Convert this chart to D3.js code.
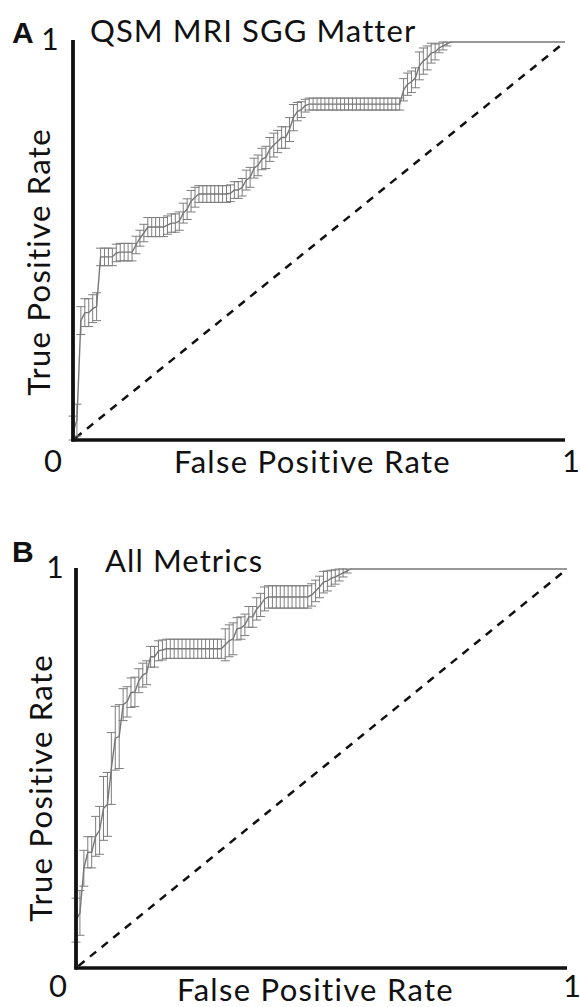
<!DOCTYPE html>
<html>
<head>
<meta charset="utf-8">
<script src="https://cdn.jsdelivr.net/npm/d3@7"></script>
<style>
  html, body { margin: 0; padding: 0; background: #fff; }
  svg { display: block; }
  text { font-family: Lato, "Open Sans", sans-serif; fill: #111; }
  text.letter { font-family: "Liberation Sans", Arial, sans-serif; font-weight: bold; }
</style>
</head>
<body>
<svg id="chart" width="580" height="1007"></svg>
<script>
// ---------- DATA ----------
// Panel A: QSM MRI SGG Matter — mean ROC on an FPR grid, with error (half-width)
const fprA = [
  0.000,0.008,0.016,0.024,0.032,0.040,0.048,0.056,0.064,0.072,
  0.080,0.088,0.096,0.104,0.112,0.120,0.128,0.136,0.144,0.152,
  0.160,0.168,0.176,0.184,0.192,0.200,0.208,0.216,0.224,0.232,
  0.240,0.248,0.256,0.264,0.272,0.280,0.288,0.296,0.304,0.312,
  0.320,0.328,0.336,0.344,0.352,0.360,0.368,0.376,0.384,0.392,
  0.400,0.408,0.416,0.424,0.432,0.440,0.448,0.456,0.464,0.472,
  0.480,0.488,0.496,0.504,0.512,0.520,0.528,0.536,0.544,0.552,
  0.560,0.568,0.576,0.584,0.592,0.600,0.608,0.616,0.624,0.632,
  0.640,0.648,0.656,0.664,0.672,0.680,0.688,0.696,0.704,0.712,
  0.720,0.728,0.736,0.744,0.752,0.760,0.768,1.000
];
const tprA = [
  0.020,0.050,0.300,0.320,0.320,0.330,0.335,0.460,0.460,0.460,
  0.460,0.470,0.472,0.472,0.472,0.472,0.490,0.507,0.520,0.535,
  0.535,0.535,0.535,0.535,0.540,0.545,0.545,0.550,0.570,0.580,
  0.600,0.610,0.618,0.618,0.618,0.618,0.618,0.618,0.618,0.618,
  0.620,0.628,0.628,0.635,0.653,0.660,0.683,0.690,0.706,0.710,
  0.730,0.741,0.750,0.760,0.760,0.780,0.810,0.825,0.830,0.840,
  0.844,0.844,0.844,0.844,0.844,0.844,0.844,0.844,0.844,0.844,
  0.844,0.844,0.844,0.844,0.844,0.844,0.844,0.844,0.844,0.844,
  0.844,0.844,0.844,0.844,0.880,0.894,0.900,0.910,0.940,0.952,
  0.960,0.972,0.975,0.985,0.990,0.995,1.000,1.000
];
const errA = [
  0.040,0.040,0.035,0.035,0.035,0.035,0.035,0.022,0.022,0.022,
  0.022,0.022,0.022,0.022,0.022,0.022,0.022,0.020,0.022,0.024,
  0.024,0.024,0.024,0.024,0.023,0.023,0.023,0.023,0.025,0.026,
  0.027,0.025,0.021,0.021,0.021,0.021,0.021,0.021,0.021,0.021,
  0.021,0.021,0.021,0.022,0.025,0.025,0.025,0.026,0.027,0.028,
  0.030,0.030,0.028,0.027,0.027,0.030,0.033,0.023,0.020,0.016,
  0.015,0.015,0.015,0.015,0.015,0.015,0.015,0.015,0.015,0.015,
  0.015,0.015,0.015,0.015,0.015,0.015,0.015,0.015,0.015,0.015,
  0.015,0.015,0.015,0.015,0.028,0.028,0.027,0.025,0.035,0.033,
  0.030,0.025,0.020,0.012,0.010,0.005,0.000,0.000
];

// Panel B: All Metrics
const fprB = [
  0.000,0.008,0.016,0.024,0.032,0.040,0.048,0.056,0.064,0.072,
  0.080,0.088,0.096,0.104,0.112,0.120,0.128,0.136,0.144,0.152,
  0.160,0.168,0.176,0.184,0.192,0.200,0.208,0.216,0.224,0.232,
  0.240,0.248,0.256,0.264,0.272,0.280,0.288,0.296,0.304,0.312,
  0.320,0.328,0.336,0.344,0.352,0.360,0.368,0.376,0.384,0.392,
  0.400,0.408,0.416,0.424,0.432,0.440,0.448,0.456,0.464,0.472,
  0.480,0.488,0.496,0.504,0.512,0.520,0.528,0.536,0.544,0.552,
  0.560,1.000
];
const tprB = [
  0.120,0.138,0.250,0.290,0.290,0.330,0.345,0.400,0.410,0.500,
  0.576,0.580,0.660,0.667,0.690,0.692,0.720,0.734,0.740,0.780,
  0.780,0.795,0.797,0.800,0.800,0.800,0.800,0.800,0.800,0.800,
  0.800,0.800,0.800,0.800,0.800,0.800,0.800,0.800,0.810,0.820,
  0.825,0.850,0.852,0.860,0.880,0.880,0.900,0.910,0.925,0.930,
  0.930,0.930,0.930,0.930,0.930,0.930,0.930,0.930,0.930,0.930,
  0.935,0.945,0.955,0.967,0.970,0.977,0.980,0.985,0.990,0.995,
  1.000,1.000
];
const errB = [
  0.055,0.056,0.045,0.039,0.039,0.050,0.060,0.080,0.080,0.090,
  0.080,0.080,0.040,0.038,0.037,0.037,0.030,0.030,0.030,0.026,
  0.026,0.025,0.025,0.024,0.024,0.024,0.024,0.024,0.024,0.024,
  0.024,0.024,0.024,0.024,0.024,0.024,0.024,0.024,0.040,0.040,
  0.040,0.028,0.028,0.027,0.026,0.026,0.028,0.029,0.030,0.028,
  0.028,0.028,0.028,0.028,0.028,0.028,0.028,0.028,0.028,0.028,
  0.028,0.027,0.027,0.027,0.025,0.020,0.018,0.015,0.010,0.005,
  0.000,0.000
];

const axisTicks = ["0", "1"];
const titles = ["QSM MRI SGG Matter", "All Metrics"];
const panelLetters = ["A", "B"];
const xLabel = "False Positive Rate";
const yLabel = "True Positive Rate";

// ---------- DRAWING ----------
const svg = d3.select("#chart");

function drawPanel(o) {
  const x = d3.scaleLinear().domain([0, 1]).range([o.x0, o.x1]);
  const y = d3.scaleLinear().domain([0, 1]).range([o.y0, o.y1]);
  const g = svg.append("g");
  const pts = o.fpr.map((f, i) => ({ f, t: o.tpr[i], e: o.err[i] }));

  // chance diagonal
  g.append("line")
    .attr("x1", x(0)).attr("y1", y(0)).attr("x2", x(1)).attr("y2", y(1))
    .attr("stroke", "#111").attr("stroke-width", 2.5)
    .attr("stroke-dasharray", "8,7").attr("stroke-dashoffset", -3);

  // error bars
  const eb = g.append("g").attr("stroke", "#7e7e7e").attr("stroke-width", 1).attr("fill", "none");
  const cap = 4.5;
  pts.filter(d => d.e > 0).forEach(d => {
    const cx = x(d.f);
    const lo = y(Math.max(0, d.t - d.e)), hi = y(Math.min(1, d.t + d.e));
    eb.append("line").attr("x1", cx).attr("x2", cx).attr("y1", lo).attr("y2", hi);
    eb.append("line").attr("x1", cx - cap).attr("x2", cx + cap).attr("y1", lo).attr("y2", lo);
    eb.append("line").attr("x1", cx - cap).attr("x2", cx + cap).attr("y1", hi).attr("y2", hi);
  });

  // mean ROC line
  g.append("path")
    .datum([{ f: 0, t: 0 }].concat(pts))
    .attr("fill", "none").attr("stroke", "#777").attr("stroke-width", 1.4)
    .attr("d", d3.line().x(d => x(d.f)).y(d => y(d.t)));

  // axes (plain thick lines, no ticks)
  g.append("line").attr("x1", x(0)).attr("x2", x(0)).attr("y1", y(0) + 1.5).attr("y2", o.yTop)
    .attr("stroke", "#111").attr("stroke-width", 3.8);
  g.append("line").attr("x1", x(0) - 1.5).attr("x2", x(1)).attr("y1", y(0)).attr("y2", y(0))
    .attr("stroke", "#111").attr("stroke-width", 3.6);

  // texts
  const ls = 1.3;
  g.append("text").attr("class", "letter").attr("x", o.letterX).attr("y", o.letterY)
    .style("font-size", "30px").text(o.letter);
  g.append("text").attr("x", o.oneYX).attr("y", o.oneYY).attr("text-anchor", "middle")
    .attr("font-size", 30).text(axisTicks[1]);
  g.append("text").attr("x", o.zeroX).attr("y", o.zeroY).attr("text-anchor", "middle")
    .attr("font-size", 31).text(axisTicks[0]);
  g.append("text").attr("x", o.oneXX).attr("y", o.zeroY).attr("text-anchor", "middle")
    .attr("font-size", 31).text(axisTicks[1]);
  g.append("text").attr("x", o.titleX).attr("y", o.titleY)
    .attr("font-size", 31).attr("letter-spacing", 1.1).text(o.title);
  g.append("text").attr("x", o.xlabX).attr("y", o.xlabY)
    .attr("font-size", 31).attr("letter-spacing", ls).text(xLabel);
  g.append("text").attr("transform", `translate(${o.ylabX},${o.ylabY}) rotate(-90)`)
    .attr("text-anchor", "middle").attr("font-size", 31).attr("letter-spacing", ls).text(yLabel);
}

drawPanel({
  fpr: fprA, tpr: tprA, err: errA,
  x0: 73, x1: 565, y0: 440, y1: 42, yTop: 40,
  letter: panelLetters[0], letterX: 12, letterY: 43,
  oneYX: 50, oneYY: 50, zeroX: 53, zeroY: 472, oneXX: 571,
  title: titles[0], titleX: 90, titleY: 42,
  xlabX: 174, xlabY: 473, ylabX: 50, ylabY: 262
});

drawPanel({
  fpr: fprB, tpr: tprB, err: errB,
  x0: 76, x1: 567, y0: 968, y1: 569, yTop: 568,
  letter: panelLetters[1], letterX: 12, letterY: 562,
  oneYX: 55, oneYY: 578, zeroX: 58, zeroY: 997, oneXX: 572,
  title: titles[1], titleX: 105, titleY: 572,
  xlabX: 177, xlabY: 1001, ylabX: 52, ylabY: 788
});
</script>
</body>
</html>
